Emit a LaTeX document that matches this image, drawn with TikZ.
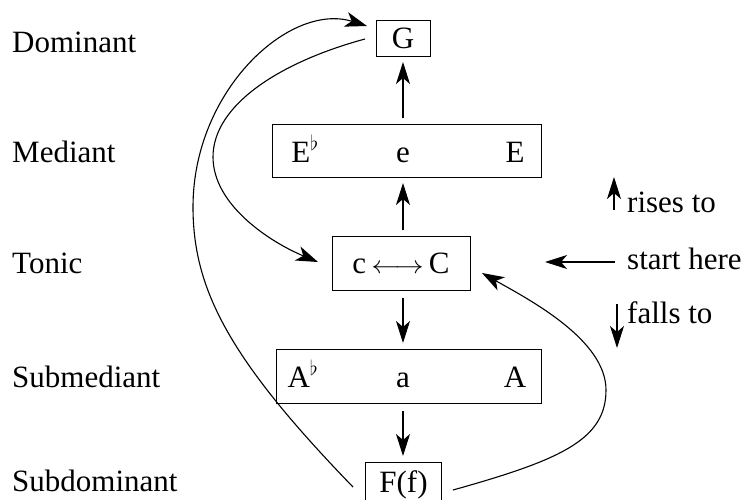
\documentclass[tikz,border=0pt]{standalone}
\usepackage{fontspec}
\setmainfont{Liberation Serif}
\usetikzlibrary{arrows.meta}
\begin{document}
\begin{tikzpicture}[x=1pt,y=-1pt,
  every node/.style={font=\fontsize{31}{36}\selectfont, inner sep=0pt},
  keybox/.style={draw, line width=0.9pt},
  lbl/.style={anchor=base west},
  txt/.style={anchor=base},
  conn/.style={line width=1.1pt, -{Stealth[length=22pt,width=14pt,inset=6pt]}},
  ctip/.style={line width=1.1pt, -{Stealth[length=22pt,width=15pt,inset=6pt]}}]
\useasboundingbox (0,0) rectangle (747,499);
% left labels
\node[lbl] (ldom) at (12,52) {Dominant};
\node[lbl] (lmed) at (12,162) {Mediant};
\node[lbl] (lton) at (12,273) {Tonic};
\node[lbl] (lsub) at (12,387) {Submediant};
\node[lbl] (lsd) at (12,491) {Subdominant};
% boxes
\node[keybox, minimum width=54pt, minimum height=36pt] (G) at (403,38) {};
\node[txt] (Gtxt) at (403,48) {G};
\node[keybox, minimum width=269pt, minimum height=53pt] (M) at (406.5,150.5) {};
\node[txt] (Eb) at (305,162) {E\raisebox{2pt}{$^{\flat}$}};
\node[txt] (e) at (403,162) {e};
\node[txt] (E) at (515,162) {E};
\node[keybox, minimum width=138pt, minimum height=54pt] (T) at (401,263) {};
\node[txt] (Ttxt) at (401,273) {c\,\scalebox{1.15}[1]{$\longleftrightarrow$}\,C};
\node[keybox, minimum width=265pt, minimum height=54pt] (S) at (408.5,376) {};
\node[txt] (Ab) at (303,387) {A\raisebox{2pt}{$^{\flat}$}};
\node[txt] (a) at (403,387) {a};
\node[txt] (A) at (515,387) {A};
\node[keybox, minimum width=76pt, minimum height=46pt] (F) at (403.5,485) {};
\node[txt] (Ftxt) at (403.5,492) {F(f)};
% vertical arrows
\coordinate (mtop) at (403,118);
\coordinate (gbot) at (403,62);
\coordinate (ttop) at (403,230);
\coordinate (mbot) at (403,183);
\coordinate (tbot) at (403,298);
\coordinate (stop) at (403,343);
\coordinate (sbot) at (403,411);
\coordinate (ftop) at (403,456);
\draw[conn] (mtop) -- (gbot);
\draw[conn] (ttop) -- (mbot);
\draw[conn] (tbot) -- (stop);
\draw[conn] (sbot) -- (ftop);
% legend
\node[lbl] (rises) at (627,212) {rises to};
\node[lbl] (start) at (627,269) {start here};
\node[lbl] (falls) at (627,323) {falls to};
\coordinate (r1) at (614,210);
\coordinate (r2) at (614,177);
\coordinate (s1) at (615,262);
\coordinate (s2) at (545,262);
\coordinate (f1) at (617,304);
\coordinate (f2) at (617,348);
\draw[conn] (r1) -- (r2);
\draw[conn] (s1) -- (s2);
\draw[conn] (f1) -- (f2);
% curves
\coordinate (o1) at (353,487);
\coordinate (o2) at (193,207);
\coordinate (o3) at (367,26);
\draw[ctip] (o1) .. controls (230,360) and (193,290) .. (o2)
  .. controls (193,90) and (290,2) .. (o3);
\coordinate (i1) at (365,39);
\coordinate (i2) at (213,157);
\coordinate (i3) at (318,262);
\draw[ctip] (i1) .. controls (280,62) and (213,105) .. (i2)
  .. controls (213,205) and (270,242) .. (i3);
\coordinate (q1) at (453,490);
\coordinate (q2) at (606,390);
\coordinate (q3) at (482,273);
\draw[ctip] (q1) .. controls (560,460) and (606,440) .. (q2)
  .. controls (606,340) and (530,300) .. (q3);
\end{tikzpicture}
\end{document}
